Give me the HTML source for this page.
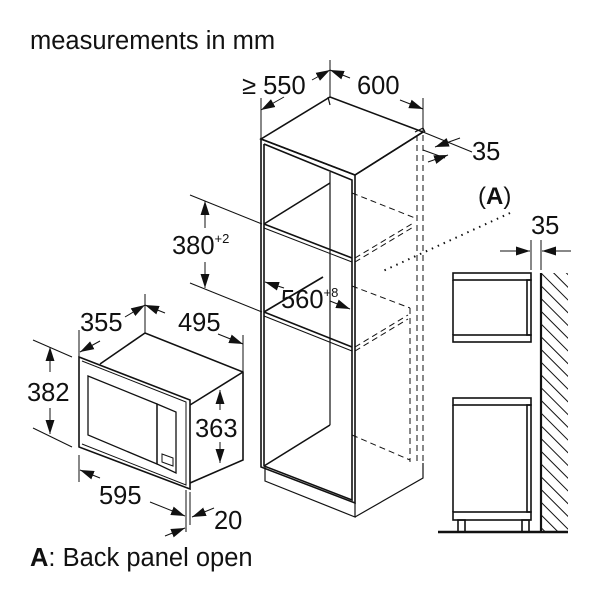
<!DOCTYPE html>
<html><head><style>
body{margin:0;background:#fff}
svg{display:block}
text{font-family:"Liberation Sans",Arial,sans-serif;fill:#111}
</style></head><body>
<svg width="600" height="600" viewBox="0 0 600 600" xmlns="http://www.w3.org/2000/svg">
<defs>
<marker id="ar" viewBox="0 0 10 10" refX="10" refY="5" markerWidth="14" markerHeight="14" orient="auto-start-reverse" markerUnits="userSpaceOnUse"><path d="M0,1.8 L10,5 L0,8.2z" fill="#111"/></marker>
<pattern id="hatch" width="9" height="9" patternUnits="userSpaceOnUse" patternTransform="rotate(-45)"><line x1="0" y1="0" x2="0" y2="9" stroke="#111" stroke-width="2"/></pattern>
</defs>
<text x="30" y="49" font-size="25.5">measurements in mm</text>

<g stroke="#111" fill="none" stroke-width="1.6">
<polygon points="261,139 330,97 423,132 355,175" fill="#fff"/>
<polygon points="261,139 355,175 355,503 261,467"/>
<polyline points="264,144 352,180 352,500 264,466 264,144"/>
<line x1="355" y1="175" x2="423" y2="132"/>
<line x1="330" y1="172" x2="330" y2="425" stroke-width="1.2"/>
<polyline points="264,224 330,183"/><line x1="264" y1="224" x2="352" y2="258"/><line x1="264" y1="228" x2="352" y2="262" stroke-width="1"/>
<polyline points="264,312 323,277"/><line x1="264" y1="312" x2="352" y2="347"/><line x1="264" y1="316" x2="352" y2="351" stroke-width="1"/>
<polyline points="264,466 330,425"/>
<polyline points="265,467 265,481 355,517 355,503" stroke-width="1.2"/>
<polyline points="355,517 423,478 423,463" stroke-width="1.2"/>
<line x1="328" y1="97" x2="330" y2="105" stroke-width="1.2"/>
<polyline points="415,132 423,128 425,132" stroke-width="1.2"/>
</g>
<g stroke="#111" fill="none" stroke-width="1" stroke-dasharray="6,4">
<line x1="417" y1="135" x2="417" y2="465"/>
<line x1="423" y1="135" x2="423" y2="470"/>
<line x1="352" y1="193" x2="415" y2="218"/>
<line x1="355" y1="258" x2="415" y2="222"/><line x1="355" y1="262" x2="415" y2="226"/>
<line x1="352" y1="286" x2="410" y2="308"/>
<line x1="355" y1="347" x2="408" y2="315"/><line x1="355" y1="351" x2="408" y2="319"/>
<line x1="410" y1="308" x2="410" y2="462"/>
<line x1="352" y1="435" x2="410" y2="460"/>
</g>
<line x1="510" y1="213" x2="383" y2="271" stroke="#111" stroke-width="2" stroke-dasharray="1.5,5"/>
<text x="478" y="204" font-size="24">(<tspan font-weight="bold">A</tspan>)</text>

<g stroke="#111" stroke-width="1" fill="none">
<line x1="261" y1="98" x2="261" y2="139"/><line x1="330" y1="60" x2="330" y2="97"/><line x1="423" y1="98" x2="423" y2="132"/>
<line x1="284" y1="97" x2="261" y2="110" marker-end="url(#ar)"/>
<line x1="312" y1="80" x2="330" y2="70" marker-end="url(#ar)"/>
<line x1="350" y1="78" x2="330" y2="70" marker-end="url(#ar)"/>
<line x1="400" y1="100" x2="423" y2="109" marker-end="url(#ar)"/>
<line x1="423" y1="132" x2="472" y2="152"/><line x1="423" y1="150" x2="445" y2="158"/>
<line x1="460" y1="138" x2="435" y2="147" marker-end="url(#ar)"/>
<line x1="428" y1="162" x2="448" y2="155" marker-end="url(#ar)"/>
<line x1="190" y1="195" x2="262" y2="224"/><line x1="190" y1="283" x2="262" y2="312"/>
<line x1="205" y1="228" x2="205" y2="201" marker-end="url(#ar)"/>
<line x1="205" y1="262" x2="205" y2="288" marker-end="url(#ar)"/>
<line x1="284" y1="288" x2="265" y2="282" marker-end="url(#ar)"/>
<line x1="330" y1="301" x2="350" y2="309" marker-end="url(#ar)"/>
</g>
<text x="242" y="94" font-size="25.5">≥ 550</text>
<text x="357" y="94" font-size="25.5">600</text>
<text x="472" y="160" font-size="25.5">35</text>
<text x="172" y="254" font-size="25.5">380<tspan font-size="13" dy="-11">+2</tspan></text>
<text x="281" y="308" font-size="25.5">560<tspan font-size="13" dy="-11">+8</tspan></text>

<g stroke="#111" fill="none" stroke-width="1.6">
<polyline points="100,364 145,333 243,372 243,460 190,483"/>
<line x1="190" y1="405" x2="243" y2="372"/>
<polygon points="79,357 190,400 190,489 79,447" fill="#fff"/>
<polyline points="82,361 186,402 186,485 82,444" stroke-width="1"/>
<polygon points="88,376 157,404 157,464 88,435" stroke-width="1.3"/>
<polygon points="157,404 176,412 176,473 157,464" stroke-width="1.3"/>
<polygon points="162,454 173,458 173,466 162,462" stroke-width="1"/>
</g>
<g stroke="#111" stroke-width="1" fill="none">
<line x1="79" y1="330" x2="79" y2="357"/><line x1="145" y1="294" x2="145" y2="333"/><line x1="243" y1="335" x2="243" y2="372"/>
<line x1="100" y1="341" x2="80" y2="352" marker-end="url(#ar)"/>
<line x1="125" y1="317" x2="145" y2="305" marker-end="url(#ar)"/>
<line x1="165" y1="313" x2="145" y2="305" marker-end="url(#ar)"/>
<line x1="218" y1="334" x2="243" y2="344" marker-end="url(#ar)"/>
<line x1="33" y1="340" x2="72" y2="357"/><line x1="33" y1="428" x2="72" y2="447"/>
<line x1="50" y1="372" x2="50" y2="347" marker-end="url(#ar)"/>
<line x1="50" y1="408" x2="50" y2="434" marker-end="url(#ar)"/>
<line x1="220" y1="410" x2="220" y2="390" marker-end="url(#ar)"/>
<line x1="220" y1="442" x2="220" y2="463" marker-end="url(#ar)"/>
<line x1="79" y1="455" x2="79" y2="482"/><line x1="186" y1="490" x2="186" y2="532"/><line x1="190" y1="492" x2="190" y2="525"/>
<line x1="100" y1="478" x2="80" y2="470" marker-end="url(#ar)"/>
<line x1="150" y1="502" x2="185" y2="516" marker-end="url(#ar)"/>
<line x1="165" y1="536" x2="185" y2="528" marker-end="url(#ar)"/>
<line x1="214" y1="508" x2="192" y2="517" marker-end="url(#ar)"/>
</g>
<text x="80" y="331" font-size="25.5">355</text>
<text x="178" y="331" font-size="25.5">495</text>
<text x="27" y="401" font-size="25.5">382</text>
<text x="195" y="437" font-size="25.5">363</text>
<text x="99" y="504" font-size="25.5">595</text>
<text x="214" y="529" font-size="25.5">20</text>

<rect x="542" y="273" width="26" height="259" fill="url(#hatch)"/>
<g stroke="#111" fill="none" stroke-width="1.6">
<line x1="541" y1="273" x2="541" y2="532" stroke-width="2.2"/>
<line x1="438" y1="532" x2="568" y2="532" stroke-width="2.4"/>
<rect x="453" y="273" width="78" height="7" fill="#fff"/>
<rect x="453" y="335" width="78" height="7" fill="#fff"/>
<line x1="453" y1="280" x2="453" y2="335"/>
<rect x="527" y="280" width="4" height="55"/>
<rect x="453" y="398" width="78" height="7" fill="#fff"/>
<rect x="453" y="512" width="78" height="8" fill="#fff"/>
<line x1="453" y1="405" x2="453" y2="512"/>
<rect x="527" y="405" width="4" height="107"/>
<rect x="458" y="520" width="7" height="12"/>
<rect x="522" y="520" width="7" height="12"/>
</g>
<g stroke="#111" stroke-width="1">
<line x1="531" y1="240" x2="531" y2="270"/><line x1="541" y1="240" x2="541" y2="270"/>
<line x1="500" y1="251" x2="530" y2="251" marker-end="url(#ar)"/>
<line x1="571" y1="251" x2="542" y2="251" marker-end="url(#ar)"/>
</g>
<text x="531" y="234" font-size="25.5">35</text>

<text x="30" y="566" font-size="25.5"><tspan font-weight="bold">A</tspan>: Back panel open</text>
</svg>
</body></html>
